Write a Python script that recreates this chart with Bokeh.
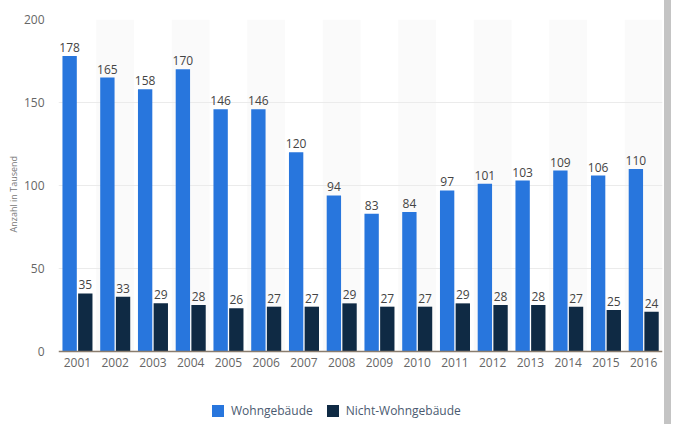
from bokeh.plotting import figure
from bokeh.models import FactorRange, ColumnDataSource, Legend, LegendItem, FixedTicker, Title, Span
from bokeh.transform import dodge
from bokeh.embed import file_html
from bokeh.resources import INLINE
from bokeh.core.properties import value

years = [str(y) for y in range(2001, 2017)]
wohn = [178, 165, 158, 170, 146, 146, 120, 94, 83, 84, 97, 101, 103, 109, 106, 110]
nicht = [35, 33, 29, 28, 26, 27, 27, 29, 27, 27, 29, 28, 28, 27, 25, 24]
y_ticks = [0, 50, 100, 150, 200]

FONT = "Open Sans"
BLUE = "#2876dd"
DARK = "#0f2a44"

src = ColumnDataSource(dict(
    year=years, wohn=wohn, nicht=nicht, zero=[0] * len(years),
    wl=[str(v) for v in wohn], nl=[str(v) for v in nicht],
))
band_src = ColumnDataSource(dict(year=years[1::2], top=[200] * len(years[1::2])))

# frame spans 19..424 px; 0..200 occupies 19..351 px
y_bottom = -200 * (424 - 351) / (351 - 19)

p = figure(width=671, height=424, x_range=FactorRange(*years, range_padding=0),
           y_range=(y_bottom, 200), output_backend="svg", toolbar_location=None,
           min_border_left=58, min_border_right=9, min_border_top=19, min_border_bottom=0)
p.styles = {"border-right": "7px solid #c4c4c4"}
p.outline_line_color = None
p.background_fill_color = "white"
p.xaxis.visible = False
p.xgrid.grid_line_color = None
p.ygrid.grid_line_color = "#ebebeb"
p.ygrid.ticker = FixedTicker(ticks=y_ticks[1:])

p.vbar(x="year", top="top", bottom=0, width=1, source=band_src,
       fill_color="#fafafa", line_color=None, level="underlay")

r1 = p.vbar(x=dodge("year", -0.205, range=p.x_range), top="wohn", width=0.38,
            source=src, fill_color=BLUE, line_color=None)
r2 = p.vbar(x=dodge("year", 0.21, range=p.x_range), top="nicht", width=0.38,
            source=src, fill_color=DARK, line_color=None)

p.add_layout(Span(location=0, dimension="width", line_color="#8a7d6e", line_width=1.5))

p.text(x=dodge("year", -0.205, range=p.x_range), y="wohn", text="wl", source=src,
       text_align="center", text_baseline="bottom", y_offset=-4,
       text_font=value(FONT), text_font_size="12px", text_color="#444444")
p.text(x=dodge("year", 0.21, range=p.x_range), y="nicht", text="nl", source=src,
       text_align="center", text_baseline="bottom", y_offset=-4,
       text_font=value(FONT), text_font_size="12px", text_color="#444444")
# category (year) labels under the baseline
p.text(x="year", y="zero", text="year", source=src,
       text_align="center", text_baseline="top", y_offset=6,
       text_font=value(FONT), text_font_size="12px", text_color="#666666")

p.yaxis.ticker = FixedTicker(ticks=y_ticks)
p.yaxis.axis_line_color = None
p.yaxis.major_tick_line_color = None
p.yaxis.minor_tick_line_color = None
p.yaxis.major_label_text_font = FONT
p.yaxis.major_label_text_font_size = "12px"
p.yaxis.major_label_text_color = "#666666"
p.yaxis.major_label_standoff = 8

ylab = Title(text="Anzahl in Tausend", align="left", offset=192,
             text_font=FONT, text_font_size="9px", text_font_style="normal",
             text_color="#777777", standoff=2)
p.add_layout(ylab, "left")

legend = Legend(items=[LegendItem(label="Wohngebäude", renderers=[r1]),
                       LegendItem(label="Nicht-Wohngebäude", renderers=[r2])],
                orientation="horizontal", location=(152, 5),
                label_text_font=FONT, label_text_font_size="12px",
                label_text_color="#4a5a70", glyph_width=15, glyph_height=15,
                spacing=12, label_standoff=6, border_line_color=None,
                background_fill_alpha=0, margin=0, padding=0,
                label_height=15)
p.add_layout(legend)

open("out.html", "w").write(file_html(p, INLINE))
